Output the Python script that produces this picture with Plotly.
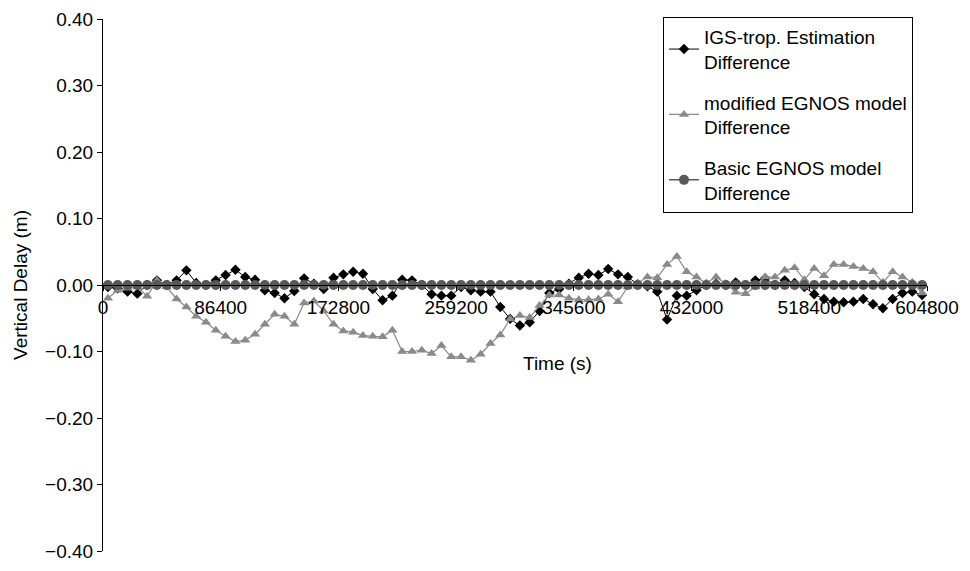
import plotly.graph_objects as go

# Time axis: two-hour bins (centres), seconds
time_s = [3600 + 7200 * i for i in range(84)]

igs_diff = [
    -0.003, -0.005, -0.010, -0.013, 0.000, 0.007, 0.000, 0.007, 0.022, 0.003,
    0.000, 0.007, 0.015, 0.023, 0.012, 0.008, -0.008, -0.012, -0.020, -0.009,
    0.010, 0.002, -0.006, 0.011, 0.016, 0.020, 0.017, -0.006, -0.023, -0.016,
    0.008, 0.007, 0.000, -0.014, -0.016, -0.016, -0.003, -0.008, -0.010, -0.010,
    -0.033, -0.051, -0.061, -0.056, -0.039, -0.012, -0.006, 0.002, 0.011, 0.017,
    0.015, 0.024, 0.016, 0.012, 0.001, -0.002, -0.010, -0.052, -0.016, -0.016,
    -0.008, 0.000, 0.002, 0.000, 0.004, 0.000, 0.007, 0.010, 0.000, 0.007,
    0.003, -0.003, -0.014, -0.021, -0.025, -0.026, -0.025, -0.021, -0.029, -0.035,
    -0.021, -0.012, -0.010, -0.015,
]

modified_diff = [
    -0.020, -0.008, -0.005, -0.003, -0.017, 0.007, -0.003, -0.021, -0.033, -0.047,
    -0.056, -0.068, -0.077, -0.085, -0.083, -0.074, -0.059, -0.044, -0.047, -0.059,
    -0.027, -0.024, -0.039, -0.059, -0.069, -0.071, -0.076, -0.077, -0.078, -0.068,
    -0.100, -0.100, -0.098, -0.103, -0.091, -0.108, -0.108, -0.113, -0.104, -0.088,
    -0.075, -0.051, -0.046, -0.049, -0.031, -0.015, -0.015, -0.020, -0.022, -0.022,
    -0.021, -0.014, -0.025, -0.003, 0.003, 0.012, 0.011, 0.031, 0.043, 0.020,
    0.012, 0.003, 0.012, 0.002, -0.011, -0.013, -0.003, 0.012, 0.012, 0.022,
    0.026, 0.008, 0.025, 0.014, 0.031, 0.031, 0.028, 0.025, 0.020, 0.004,
    0.020, 0.012, 0.004, -0.012,
]

basic_diff = [0.0] * 84

x_tick_vals = [0, 86400, 172800, 259200, 345600, 432000, 518400, 604800]
x_tick_text = ["0", "86400", "172800", "259200", "345600", "432000", "518400", "604800"]
y_tick_vals = [0.40, 0.30, 0.20, 0.10, 0.00, -0.10, -0.20, -0.30, -0.40]

FONT = "Liberation Sans, Arial, sans-serif"
FS = 19

fig = go.Figure()
fig.add_trace(go.Scatter(
    x=time_s, y=igs_diff, mode="lines+markers",
    name="IGS-trop. Estimation<br>Difference", legendgroup="a",
    line=dict(color="black", width=1),
    marker=dict(symbol="diamond", size=8, color="black"),
))
fig.add_trace(go.Scatter(
    x=time_s, y=modified_diff, mode="lines+markers",
    name="modified EGNOS model<br>Difference", legendgroup="b",
    line=dict(color="#8a8a8a", width=1.2),
    marker=dict(symbol="triangle-up", size=9, color="#8a8a8a"),
))
fig.add_trace(go.Scatter(
    x=time_s, y=basic_diff, mode="lines+markers",
    name="Basic EGNOS model<br>Difference", legendgroup="c",
    line=dict(color="#595959", width=1.5),
    marker=dict(symbol="circle", size=10, color="#595959"),
))

fig.update_layout(
    width=970, height=571,
    margin=dict(l=103, r=43, t=18, b=9),
    paper_bgcolor="white", plot_bgcolor="white",
    font=dict(family=FONT, size=FS, color="black"),
    showlegend=True,
    legend=dict(
        x=0.983, y=1.004, xanchor="right", yanchor="top",
        bordercolor="black", borderwidth=1, bgcolor="white",
        font=dict(size=FS, family=FONT),
        traceorder="grouped", tracegroupgap=13,
    ),
    xaxis=dict(
        range=[0, 604800], tickvals=x_tick_vals, ticktext=x_tick_text,
        showgrid=False, zeroline=False, showline=True, linecolor="black", linewidth=1,
        ticks="outside", ticklen=5, tickcolor="black",
        anchor="free", position=0.5,
        tickfont=dict(size=FS), ticklabeloverflow="allow",
    ),
    yaxis=dict(
        range=[-0.40, 0.40], tickvals=y_tick_vals, tickformat=".2f",
        showgrid=False, zeroline=False, showline=True, linecolor="black", linewidth=1,
        ticks="outside", ticklen=5, tickcolor="black",
        title=dict(text="Vertical Delay (m)", font=dict(size=FS), standoff=12),
        tickfont=dict(size=FS), ticklabeloverflow="allow",
    ),
    annotations=[dict(
        text="Time (s)", xref="paper", yref="paper", x=0.551, y=0.353,
        xanchor="center", yanchor="middle", showarrow=False, font=dict(size=FS),
    )],
)

fig.write_html("out.html")
